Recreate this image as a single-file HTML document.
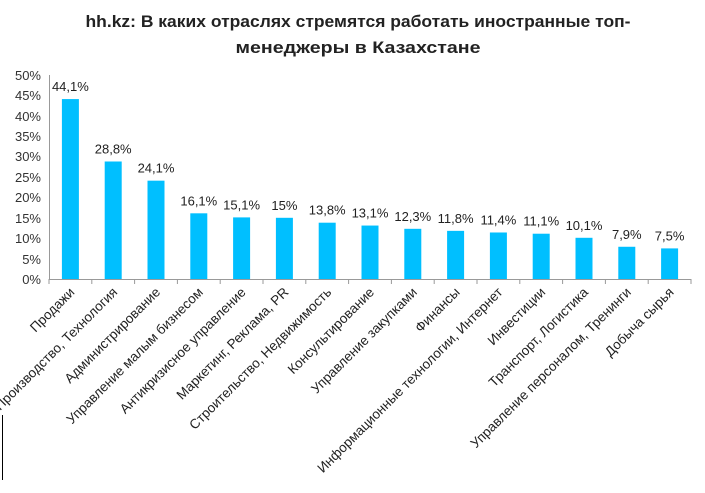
<!DOCTYPE html>
<html><head><meta charset="utf-8"><style>
body{margin:0;background:#fff;}
svg{display:block;font-family:"Liberation Sans","DejaVu Sans",sans-serif;}
</style></head><body>
<svg width="705" height="493" viewBox="0 0 705 493" xmlns="http://www.w3.org/2000/svg">
<rect width="705" height="493" fill="#fff"/>
<g font-weight="bold" font-size="16.5" fill="#222" text-anchor="middle">
<text x="358" y="27" textLength="545" lengthAdjust="spacingAndGlyphs">hh.kz: В каких отраслях стремятся работать иностранные топ-</text>
<text x="358" y="53" textLength="245" lengthAdjust="spacingAndGlyphs">менеджеры в Казахстане</text>
</g>
<g font-size="13" fill="#333" text-anchor="end">
<text x="41" y="80">50%</text><text x="41" y="100">45%</text><text x="41" y="121">40%</text>
<text x="41" y="141">35%</text><text x="41" y="161">30%</text><text x="41" y="182">25%</text>
<text x="41" y="202">20%</text><text x="41" y="223">15%</text><text x="41" y="243">10%</text>
<text x="41" y="264">5%</text><text x="41" y="284">0%</text>
</g>
<g stroke="#999" stroke-width="1">
<line x1="49.5" y1="75" x2="49.5" y2="279"/>
<line x1="49" y1="279.5" x2="691" y2="279.5"/>
<g id="ticks"></g>
</g>
<g id="bars" fill="#00BFFF"></g>
<g id="vals" font-size="13" fill="#222" text-anchor="middle"></g>
<g id="labs" font-size="13.5" fill="#222" text-anchor="end"></g>
<line x1="2.5" y1="415" x2="2.5" y2="480" stroke="#000" stroke-width="1"/>
<script>
var d=[["Продажи",44.1,"44,1%"],["Производство, Технология",28.8,"28,8%"],["Администрирование",24.1,"24,1%"],["Управление малым бизнесом",16.1,"16,1%"],["Антикризисное управление",15.1,"15,1%"],["Маркетинг, Реклама, PR",15,"15%"],["Строительство, Недвижимость",13.8,"13,8%"],["Консультирование",13.1,"13,1%"],["Управление закупками",12.3,"12,3%"],["Финансы",11.8,"11,8%"],["Информационные технологии, Интернет",11.4,"11,4%"],["Инвестиции",11.1,"11,1%"],["Транспорт, Логистика",10.1,"10,1%"],["Управление персоналом, Тренинги",7.9,"7,9%"],["Добыча сырья",7.5,"7,5%"]];
var ns="http://www.w3.org/2000/svg",step=42.8,x0=49,y0=279,k=4.08;
function el(t,a,p,txt){var e=document.createElementNS(ns,t);for(var i in a)e.setAttribute(i,a[i]);if(txt)e.textContent=txt;document.getElementById(p).appendChild(e);}
for(var i=0;i<=15;i++)el("line",{x1:x0+i*step,y1:279,x2:x0+i*step,y2:284},"ticks");
d.forEach(function(r,i){var cx=x0+step*(i+0.5),h=r[1]*k;
el("rect",{x:cx-8.5,y:y0-h,width:17,height:h},"bars");
el("text",{x:cx,y:y0-h-8},"vals",r[2]);
el("text",{x:cx+5,y:293,transform:"rotate(-45 "+(cx+5)+" 293)"},"labs",r[0]);});
</script>
</svg>
</body></html>
